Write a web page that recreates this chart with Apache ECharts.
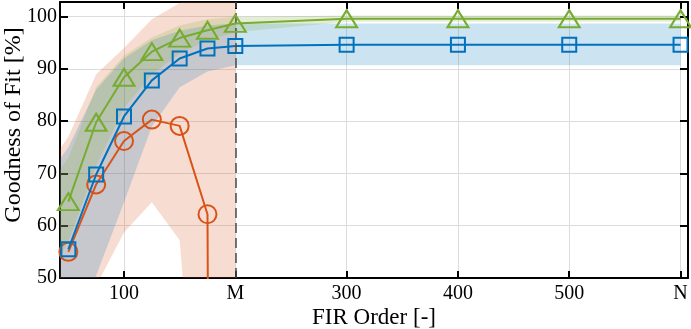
<!DOCTYPE html>
<html>
<head>
<meta charset="utf-8">
<script src="https://cdn.jsdelivr.net/npm/echarts@6/dist/echarts.min.js"></script>
<style>
    html, body { margin: 0; padding: 0; background: #fff; }
    #chart { width: 691px; height: 329px; }
</style>
</head>
<body>
<div id="chart"></div>
<script>
    // FIR orders
    var orders = [50, 75, 100, 125, 150, 175, 200, 300, 400, 500, 600];
    var ordersShort = [50, 75, 100, 125, 150, 175, 200];
    var bandOrders = [40, 50, 75, 100, 125, 150, 175, 200, 300, 400, 500, 600];
    var bandOrdersShort = [40, 50, 75, 100, 125, 150, 175, 200];
    var tickValues = [100, 200, 300, 400, 500, 600];

    // green (triangles)
    var greenMean = [64.6, 79.8, 88.4, 93.3, 95.9, 97.4, 98.7, 99.6, 99.6, 99.6, 99.6];
    var greenLow = [53, 57, 71.5, 82.5, 89, 93, 95.5, 97, 99, 99, 99, 99];
    var greenHigh = [70, 73, 86.5, 92.5, 96, 98.3, 99.5, 100, 100.2, 100.2, 100.2, 100.2];

    // blue (squares)
    var blueMean = [55.5, 69.8, 80.9, 87.8, 92, 93.9, 94.4, 94.6, 94.6, 94.6, 94.6];
    var blueLow = [30, 35, 50.5, 64.5, 79, 86.5, 89.5, 90.7, 90.7, 90.7, 90.7, 90.7];
    var blueHigh = [72, 75, 86, 92, 95.5, 97.3, 98.3, 98.7, 98.7, 98.7, 98.7, 98.7];

    // orange (circles), only up to M
    var orangeMean = [55.0, 67.9, 76.2, 80.3, 79.1, 62.2, -1000];
    var orangeLow = [10, 20, 48.5, 58.7, 64.5, 57.2, -8, -20];
    var orangeHigh = [74, 77, 89, 94, 99.5, 102.6, 130, 130];

    var fontFam = 'Liberation Serif';

    function pairs(xs, ys) {
        var out = [];
        for (var i = 0; i < xs.length; i++) out.push([xs[i], ys[i]]);
        return out;
    }

    // shaded band between lo and hi, drawn as one polygon
    function band(xs, lo, hi, color) {
        return {
            type: 'custom', silent: true, z: 1,
            data: [0],
            renderItem: function (params, api) {
                var pts = [];
                for (var i = 0; i < xs.length; i++) pts.push(api.coord([xs[i], hi[i]]));
                for (var j = xs.length - 1; j >= 0; j--) pts.push(api.coord([xs[j], lo[j]]));
                var cs = params.coordSys;
                return {
                    type: 'polygon',
                    shape: { points: pts },
                    style: { fill: color },
                    clipPath: { type: 'rect', shape: { x: cs.x, y: cs.y, width: cs.width, height: cs.height } }
                };
            }
        };
    }

    function meanLine(xs, ys, color, symbol, size, z) {
        return {
            type: 'line', data: pairs(xs, ys), symbol: symbol, symbolSize: size,
            showAllSymbol: true, z: z,
            lineStyle: { color: color, width: 2 },
            itemStyle: { color: 'rgba(0,0,0,0)', borderColor: color, borderWidth: 2 }
        };
    }

    var series = [
        band(bandOrdersShort, orangeLow, orangeHigh, 'rgba(217,83,25,0.2)'),
        band(bandOrders, blueLow, blueHigh, 'rgba(0,114,189,0.2)'),
        band(bandOrders, greenLow, greenHigh, 'rgba(119,172,48,0.2)')
    ];

    var orangeLine = meanLine(ordersShort, orangeMean, '#D95319', 'circle', 18, 3);
    orangeLine.markLine = {
        silent: true, symbol: 'none', label: { show: false },
        lineStyle: { color: '#4a4a4a', width: 1.5, type: [10, 5] },
        data: [{ xAxis: 200 }]
    };
    series.push(orangeLine);
    series.push(meanLine(orders, blueMean, '#0072BD', 'rect', 14, 4));
    series.push(meanLine(orders, greenMean, '#77AC30', 'triangle', [21, 17], 5));

    var chart = echarts.init(document.getElementById('chart'));
    chart.setOption({
        animation: false,
        grid: { left: 60, right: 3, top: 2, bottom: 51, containLabel: false, outerBoundsMode: 'none' },
        xAxis: [{
            type: 'value', min: 42.5, max: 606.7, position: 'bottom',
            name: 'FIR Order [-]', nameLocation: 'middle', nameGap: 28, nameMoveOverlap: false,
            nameTextStyle: { fontFamily: fontFam, fontSize: 23, color: '#000' },
            axisLine: { onZero: false, lineStyle: { color: '#000', width: 2 } },
            axisTick: { inside: true, length: 7, customValues: tickValues, lineStyle: { color: '#000', width: 2 } },
            axisLabel: {
                customValues: tickValues, margin: 6, fontFamily: fontFam, fontSize: 20, color: '#000',
                formatter: function (v) { return v === 200 ? 'M' : (v === 600 ? 'N' : v); }
            },
            splitLine: { show: true, lineStyle: { color: '#dcdcdc', width: 1 } }
        }, {
            type: 'value', min: 42.5, max: 606.7, position: 'top',
            axisLine: { onZero: false, lineStyle: { color: '#000', width: 2 } },
            axisTick: { inside: true, length: 7, customValues: tickValues, lineStyle: { color: '#000', width: 2 } },
            axisLabel: { show: false },
            splitLine: { show: false }
        }],
        yAxis: [{
            type: 'value', min: 50, max: 102.8, interval: 10, position: 'left',
            name: 'Goodness of Fit [%]', nameLocation: 'middle', nameGap: 34, nameMoveOverlap: false,
            nameTextStyle: { fontFamily: fontFam, fontSize: 24, color: '#000', padding: [0, 0, 0, 30] },
            axisLine: { onZero: false, lineStyle: { color: '#000', width: 2 } },
            axisTick: { inside: true, length: 8, lineStyle: { color: '#000', width: 2 } },
            axisLabel: {
                margin: 3, fontFamily: fontFam, fontSize: 20, color: '#000',
                formatter: function (v) { return v % 10 === 0 ? v : ''; }
            },
            splitLine: { show: true, lineStyle: { color: '#dcdcdc', width: 1 } }
        }, {
            type: 'value', min: 50, max: 102.8, interval: 10, position: 'right',
            axisLine: { onZero: false, lineStyle: { color: '#000', width: 2 } },
            axisTick: { inside: true, length: 8, lineStyle: { color: '#000', width: 2 } },
            axisLabel: { show: false },
            splitLine: { show: false }
        }],
        series: series
    });
</script>
</body>
</html>
